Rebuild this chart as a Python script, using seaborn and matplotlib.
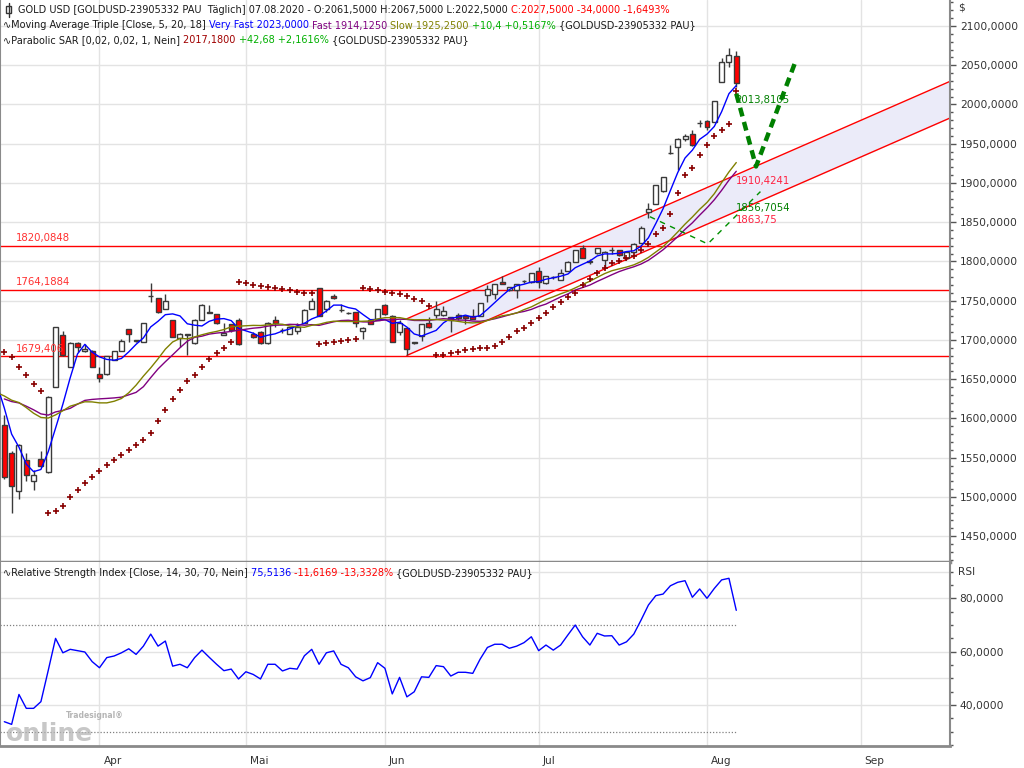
import numpy as np
import pandas as pd
import matplotlib
matplotlib.use("Agg")
import matplotlib.pyplot as plt
import matplotlib.transforms as mtransforms
from matplotlib.ticker import FixedLocator, MultipleLocator, FuncFormatter
from matplotlib.patches import Rectangle
from matplotlib.lines import Line2D
import seaborn as sns

sns.set_theme(style="white")
plt.rcParams['font.family'] = ['DejaVu Sans']

# ---------------- data ----------------
# daily bars, index 0 = 13.03.2020 ... index 100 = 07.08.2020 (None = no bar)
opens = [1592,1556,1508,1547,1520,1548,1532,1640,1706,1666,
         1696,1686,1686,1656,1656,1675,1686,1714,1699,1698,
         1756,1753,1739,1726,1702,1707,1696,1726,1736,1733,
         1706,1720,1725,None,1708,1710,1696,1725,1713,1708,
         1711,1721,1740,1766,1739,1756,1738,1734,1736,1712,
         1726,1726,1745,1731,1710,1715,1697,1705,1722,1732,
         1732,1729,1732,1731,1731,1731,1757,1758,1774,1764,
         1764,1775,1774,1788,1773,1780,1776,1788,1799,1817,
         1799,1811,1802,1814,1814,1804,1812,1823,1863,1873,
         1890,1938,1946,1956,1962,1976,1979,1978,2028,2054,
         2061.5]
highs = [1604,1558,1568,1556,1534,1558,1628,1716,1711,1697,
         1697,1695,1687,1666,1680,1686,1701,1714,1700,1721,
         1773,1753,1759,1726,1709,1708,1727,1746,1745,1733,
         1721,1720,1728,None,1710,1712,1723,1730,1715,1717,
         1721,1740,1753,1766,1751,1759,1746,1735,1736,1716,
         1726,1740,1746,1732,1725,1715,1698,1720,1729,1750,
         1743,1729,1734,1731,1740,1747,1770,1771,1782,1768,
         1771,1777,1785,1793,1782,1781,1790,1800,1815,1821,
         1803,1817,1813,1818,1815,1812,1823,1845,1874,1898,
         1907,1948,1957,1963,1967,1980,1980,2005,2059,2072,
         2067.5]
lows = [1523,1479,1498,1520,1509,1538,1531,1640,1680,1665,
        1685,1685,1666,1646,1655,1675,1686,1698,1698,1698,
        1748,1734,1739,1704,1691,1681,1695,1726,1734,1720,
        1706,1710,1694,None,1702,1695,1695,1717,1709,1708,
        1708,1721,1740,1730,1736,1752,1736,1733,1716,1701,
        1720,1726,1732,1697,1706,1681,1695,1699,1715,1728,
        1731,1710,1725,1720,1727,1731,1748,1752,1771,1762,
        1753,1773,1773,1766,1771,1778,1776,1788,1799,1804,
        1797,1810,1793,1810,1807,1802,1812,1823,1855,1873,
        1889,1937,1917,1953,1947,1971,1967,1978,2028,2048,
        2022.5]
closes = [1525,1514,1566,1528,1528,1539,1627,1716,1681,1696,
          1691,1688,1666,1651,1680,1686,1699,1708,1699,1721,
          1756,1735,1750,1704,1708,1706,1726,1745,1734,1722,
          1709,1713,1695,None,1704,1696,1722,1722,1713,1717,
          1716,1738,1750,1731,1750,1753,1738,1734,1722,1715,
          1720,1740,1733,1698,1722,1689,1696,1720,1716,1740,
          1737,1725,1728,1728,1727,1747,1765,1771,1771,1767,
          1771,1775,1785,1774,1782,1780,1785,1799,1814,1804,
          1801,1817,1812,1814,1808,1812,1822,1842,1867,1898,
          1907,1938,1956,1960,1948,1976,1971,2005,2054,2063,
          2027.5]
# closes before the visible window (needed for the moving averages)
prior_close = [1581,1601,1611,1620,1643,1658,1635,1642,1643,1585,
               1592,1641,1637,1669,1673,1680,1649,1636,1576]
sar = [1685,1678,1666,1655,1643.5,1634.6,1479,1482,1488.5,1499.6,
       1508.5,1517.4,1525,1532.7,1541,1546.7,1553,1560,1566,1572,
       1581,1597,1611,1624.4,1636,1648,1655,1666,1675.5,1683,
       1690,1697.4,1774,1773,1770,1768.8,1768,1766,1764.6,1763,
       1761,1760,1759.5,1695,1696,1697.5,1699,1700,1701,1766,
       1764.5,1763,1761.5,1760,1758.6,1755.5,1752,1749.6,1743.3,1680.5,
       1681.3,1683,1685,1687.2,1688.5,1689.4,1690,1692.3,1697.4,1704,
       1711.8,1715.6,1721,1727.6,1734.8,1742.4,1748.8,1755,1759.5,1770,
       1777.7,1785.7,1791.7,1797.7,1800.6,1804.8,1807,1814,1822.3,1835,
       1842.3,1860.5,1886.9,1910,1918.7,1935.7,1948.4,1960.3,1967.5,1974.8,
       2017.2]
rsi = [33.8,32.8,44,38.8,38.8,41.3,53,65,59.6,60.9,
       60.4,59.9,56.3,54,57.8,58.4,59.6,61.1,59,62.1,
       66.6,62.1,64,54.6,55.3,54,57.8,60.6,57.9,55.3,
       52.9,53.5,49.8,52.5,51.5,49.8,55.3,55.3,52.8,53.8,
       53.5,58.5,60.9,55.3,59.6,60.3,55.3,54,50.6,49.1,
       50.3,55.9,53.8,44.2,50.4,43.1,45,50.6,50.4,54.8,
       54.4,50.9,52.3,52.3,51.9,57.2,61.6,62.8,62.8,61.3,
       62.1,63.4,65.6,60.4,62.5,60.6,62.5,66.3,70,65.6,
       62.5,66.9,65.9,66,62.5,63.7,66.6,71.9,77.5,81,
       81.6,84.7,86,86.6,80.4,83.5,80,83.7,86.9,87.5,
       75.5]

month_labels = ['Apr', 'Mai', 'Jun', 'Jul', 'Aug', 'Sep']
month_index = [13, 33, 52, 73, 96, 117]

levels = [1820.0848, 1764.1884, 1679.406]
level_labels = ['1820,0848', '1764,1884', '1679,406']

chan_x = [55, 100]
chan_upper = [1727.0, 1910.4241]
chan_lower = [1680.3, 1863.75]

proj_thick_x = [100, 102.7, 108]
proj_thick_y = [2013.8105, 1921.0, 2052.5]
proj_thin_x = [88.2, 96.1, 103.3]
proj_thin_y = [1857.0, 1822.3, 1889.0]

ma_periods = {'Very Fast': 5, 'Fast': 20, 'Slow': 18}
ma_colors = {'Very Fast': '#0000ff', 'Fast': '#800080', 'Slow': '#808000'}

# ---------------- figure ----------------
W, H = 1024, 768
fig = plt.figure(figsize=(W / 100, H / 100), dpi=100)
fig.patch.set_facecolor('white')

XMIN, XMAX = -0.59, 129.2
ax = fig.add_axes([0, 1 - 562 / H, 950 / W, 562 / H])
axr = fig.add_axes([0, 1 - 746 / H, 950 / W, 184 / H], sharex=ax)
for a in (ax, axr):
    a.set_facecolor('white')
    a.set_xlim(XMIN, XMAX)
ax.set_ylim(1417.1, 2133.1)
axr.set_ylim(24.7, 93.6)

grid_c = '#e3e3e3'
for v in np.arange(1450, 2101, 50):
    ax.axhline(v, color=grid_c, lw=1, zorder=0)
for v in [40, 50, 60, 80, 90]:
    axr.axhline(v, color=grid_c, lw=1, zorder=0)
for m in month_index:
    ax.axvline(m, color=grid_c, lw=1, zorder=0)
    axr.axvline(m, color=grid_c, lw=1, zorder=0)

n = len(closes)
xs = np.arange(n)

# regression channel
slope = (chan_upper[1] - chan_upper[0]) / (chan_x[1] - chan_x[0])
cx = np.array([chan_x[0], XMAX])
cu = chan_upper[0] + slope * (cx - chan_x[0])
cl = chan_lower[0] + slope * (cx - chan_x[0])
ax.fill_between(cx, cl, cu, color='#ebebf9', zorder=0.5, lw=0)
ax.plot(cx, cu, color='#ff0000', lw=1, zorder=1)
ax.plot(cx, cl, color='#ff0000', lw=1, zorder=1)

# horizontal levels
for lv, lab in zip(levels, level_labels):
    ax.axhline(lv, color='#ff0000', lw=1, zorder=1)
    ax.text(1.6, lv + 3, lab, color='#ff3030', fontsize=7.3, va='bottom', ha='left', zorder=5)

# candles
o = np.array([np.nan if v is None else v for v in opens], float)
h = np.array([np.nan if v is None else v for v in highs], float)
l = np.array([np.nan if v is None else v for v in lows], float)
c = np.array([np.nan if v is None else v for v in closes], float)
valid = ~np.isnan(c)
edge = '#3a3a3a'
ax.vlines(xs[valid], l[valid], h[valid], color=edge, lw=1, zorder=2)
up = valid & (c >= o)
dn = valid & (c < o)
bw = 0.68
ax.bar(xs[up], np.maximum(c[up] - o[up], 0.3), bottom=o[up], width=bw,
       color='white', edgecolor=edge, linewidth=1, zorder=3)
ax.bar(xs[dn], o[dn] - c[dn], bottom=c[dn], width=bw,
       color='#ff0000', edgecolor=edge, linewidth=1, zorder=3)

# moving averages (computed from the closes)
hist_x = list(range(-len(prior_close), 0)) + list(xs[valid])
hist_c = list(prior_close) + list(c[valid])
s = pd.Series(hist_c, index=hist_x)
for name, per in ma_periods.items():
    ma = s.rolling(per).mean()
    ma = ma[ma.index >= -1]
    df = pd.DataFrame({'x': ma.index, 'y': ma.values})
    sns.lineplot(data=df, x='x', y='y', ax=ax, color=ma_colors[name], lw=1,
                 estimator=None, sort=False, zorder=4)

# parabolic SAR
sdf = pd.DataFrame({'x': xs, 'sar': sar})
sns.scatterplot(data=sdf, x='x', y='sar', ax=ax, marker='+', s=24,
                color='#880000', linewidth=1.2, zorder=5)

# projections
ax.plot(proj_thick_x, proj_thick_y, color='#008000', lw=3.2, dashes=(2.0, 1.3), zorder=6)
ax.plot(proj_thin_x, proj_thin_y, color='#009000', lw=1, dashes=(4, 4), zorder=6)

# value labels at the last bar
ax.text(99.8, 2012.0, '2013,8105', color='#008000', fontsize=7.3, va='top', ha='left', zorder=7)
ax.text(100, 1908.5, '1910,4241', color='#ff2040', fontsize=7.3, va='top', ha='left', zorder=7)
ax.text(100, 1861.2, '1856,7054', color='#008000', fontsize=7.3, va='bottom', ha='left', zorder=7)
ax.text(100, 1859.4, '1863,75', color='#ff2040', fontsize=7.3, va='top', ha='left', zorder=7)

# RSI
rdf = pd.DataFrame({'x': xs, 'rsi': rsi})
sns.lineplot(data=rdf, x='x', y='rsi', ax=axr, color='#0000ff', lw=1,
             estimator=None, sort=False, zorder=4)
for lv in [70, 30]:
    axr.plot([XMIN, n - 1], [lv, lv], color='#808080', lw=0.9, ls=(0, (1, 1.5)), zorder=1)

# axes styling
for a in (ax, axr):
    a.set_xlabel('')
    a.set_ylabel('')
    a.yaxis.tick_right()
    for sp in ['left', 'right', 'bottom', 'top']:
        a.spines[sp].set_color('#8a8a8a')
    a.spines['right'].set_linewidth(1.5)
    a.spines['left'].set_linewidth(1.5)
ax.spines['top'].set_visible(False)
ax.spines['bottom'].set_linewidth(2.5)
axr.spines['top'].set_visible(False)
axr.spines['bottom'].set_linewidth(2)

fmt = FuncFormatter(lambda v, p: f"{v:.4f}".replace('.', ','))
ax.yaxis.set_major_locator(FixedLocator(np.arange(1450, 2101, 50)))
ax.yaxis.set_minor_locator(MultipleLocator(10))
ax.yaxis.set_major_formatter(fmt)
axr.yaxis.set_major_locator(FixedLocator([40, 60, 80]))
axr.yaxis.set_minor_locator(MultipleLocator(5))
axr.yaxis.set_major_formatter(fmt)
for a in (ax, axr):
    a.tick_params(axis='y', which='major', length=4, width=1, color='#555555',
                  labelsize=7.7, labelcolor='#333333', pad=3, direction='out', right=True, left=False)
    a.tick_params(axis='y', which='minor', length=2.5, width=1, color='#555555', right=True, left=False)
ax.tick_params(axis='x', which='both', bottom=False, labelbottom=False)
axr.set_xticks(month_index)
axr.set_xticklabels(month_labels)
axr.tick_params(axis='x', length=4, width=1, color='#555555', labelsize=7.6,
                labelcolor='#333333', pad=3, direction='out')
offset = mtransforms.ScaledTranslation(4 / 100, 0, fig.dpi_scale_trans)
for lbl in axr.get_xticklabels():
    lbl.set_ha('left')
    lbl.set_transform(lbl.get_transform() + offset)

fig.text(958 / W, 1 - 8 / H, '$', fontsize=7.6, color='#333333', va='center', ha='left')
fig.text(958 / W, 1 - 572 / H, 'RSI', fontsize=7.6, color='#333333', va='center', ha='left')

# legend / header lines
renderer = fig.canvas.get_renderer()
def rich_line(x_px, y_px, segments, size=7.05):
    x = x_px
    for txt, col in segments:
        t = fig.text(x / W, 1 - y_px / H, txt, color=col, fontsize=size, va='center', ha='left', zorder=10)
        x += t.get_window_extent(renderer=renderer).width

blk = '#1a1a1a'
rich_line(18, 10, [('GOLD USD [GOLDUSD-23905332 PAU  Täglich] 07.08.2020 - O:2061,5000 H:2067,5000 L:2022,5000 ', blk),
                   ('C:2027,5000 -34,0000 -1,6493%', '#ff0000')])
rich_line(3, 25.5, [('∿Moving Average Triple [Close, 5, 20, 18] ', blk),
                    ('Very Fast 2023,0000 ', '#0000ff'),
                    ('Fast 1914,1250 ', '#800080'),
                    ('Slow 1925,2500 ', '#808000'),
                    ('+10,4 +0,5167% ', '#00b000'),
                    ('{GOLDUSD-23905332 PAU}', blk)])
rich_line(3, 40.5, [('∿Parabolic SAR [0,02, 0,02, 1, Nein] ', blk),
                    ('2017,1800 ', '#a00000'),
                    ('+42,68 +2,1616% ', '#00b000'),
                    ('{GOLDUSD-23905332 PAU}', blk)])
rich_line(3, 573, [('∿Relative Strength Index [Close, 14, 30, 70, Nein] ', blk),
                   ('75,5136 ', '#0000ff'),
                   ('-11,6169 -13,3328% ', '#ff0000'),
                   ('{GOLDUSD-23905332 PAU}', blk)])

# small candle icon in the header
fig.add_artist(Line2D([8.5 / W, 8.5 / W], [1 - 3 / H, 1 - 17 / H], color='#333333', lw=1))
fig.add_artist(Rectangle((6 / W, 1 - 13 / H), 5 / W, 7 / H, facecolor='white', edgecolor='#333333', lw=1))

# watermark
fig.text(6 / W, 1 - 734 / H, 'online', fontsize=18, fontweight='bold', color='#b5b5b5', alpha=0.75,
         va='center', ha='left', zorder=10)
fig.text(66 / W, 1 - 715 / H, 'Tradesignal®', fontsize=5.5, fontweight='bold', color='#b5b5b5',
         va='center', ha='left', zorder=10)

fig.savefig('out.png', dpi=100, facecolor='white')
